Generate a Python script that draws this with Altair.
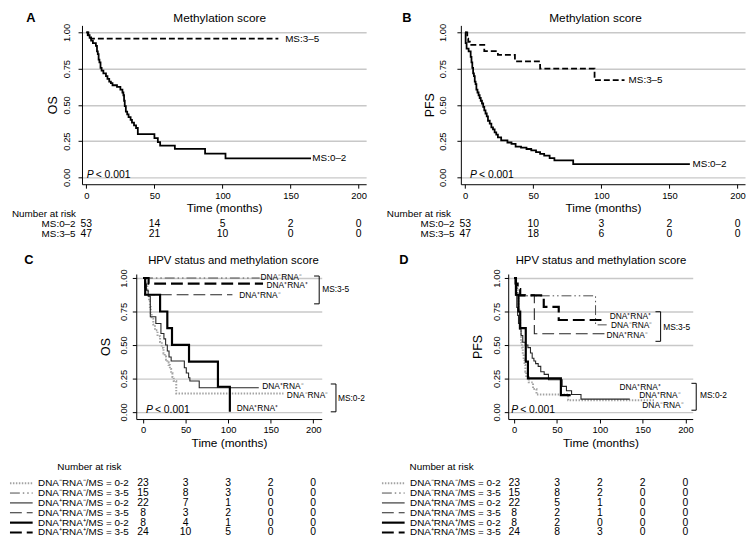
import altair as alt
import pandas as pd

FONT = "Liberation Sans"
TICKS = [0, 50, 100, 150, 200]
YTICKS = [0, 0.25, 0.5, 0.75, 1.0]

# ---------------- Panel A: OS by methylation score ----------------
A_GROUPS = ["MS:0–2", "MS:3–5"]
A_T = [
    [0, 1, 2.4, 3.5, 4.8, 7, 7.8, 8.4, 9, 9.6, 10.4, 11.2, 12.5, 14.4, 15.5, 16.8, 18, 19.2, 22.5, 25,
     26.5, 27.2, 27.7, 28.2, 29, 30, 31, 32.5, 33.5, 35, 36.5, 37.8, 50, 52.5, 54.2, 65, 87.2, 102.2, 165],
    [0, 1.5, 3.5, 141],
]
A_S = [
    [1, .981, .962, .943, .925, .906, .868, .849, .811, .792, .755, .736, .717, .698, .679, .66, .649, .635, .623, .604,
     .585, .566, .528, .491, .453, .434, .415, .396, .377, .358, .34, .297, .27, .243, .218, .196, .163, .131, .131],
    [1, .979, .957, .957],
]
A_RISK = [[53, 14, 5, 2, 0], [47, 21, 10, 0, 0]]
A_LABELS = ["MS:3–5", "MS:0–2"]
A_LABEL_T = [146, 166]
A_LABEL_S = [0.957, 0.131]

# ---------------- Panel B: PFS by methylation score ----------------
B_T = [
    [0, 0.3, 1, 2.5, 4, 4.6, 5.2, 5.8, 6.4, 7, 7.6, 8.2, 9, 9.8, 10.6, 11.4, 12.3, 13.2, 14, 14.9,
     15.8, 16.7, 18, 19.2, 20.4, 21.6, 22.8, 24, 26.4, 31, 34, 37, 41, 45, 48.5, 52, 55, 58, 62, 65.5, 79.3, 165],
    [0, 1.5, 2.2, 3.4, 14, 24, 36.5, 55, 95, 117],
]
B_S = [
    [1, .925, .887, .868, .83, .792, .755, .717, .698, .66, .642, .604, .585, .566, .547, .528, .509, .485, .462, .44,
     .42, .39, .37, .345, .33, .31, .295, .275, .255, .24, .23, .212, .205, .195, .186, .174, .162, .15, .132, .116, .09, .09],
    [1, .957, .935, .913, .87, .845, .80, .75, .67, .67],
]
B_RISK = [[53, 10, 3, 2, 0], [47, 18, 6, 0, 0]]
B_LABELS = ["MS:3–5", "MS:0–2"]
B_LABEL_T = [120, 167]
B_LABEL_S = [0.67, 0.09]

# ---------------- Panels C/D: HPV status and methylation score ----------------
HPV_GROUPS = [
    "DNA⁻RNA⁻/MS = 0-2", "DNA⁻RNA⁻/MS = 3-5",
    "DNA⁺RNA⁻/MS = 0-2", "DNA⁺RNA⁻/MS = 3-5",
    "DNA⁺RNA⁺/MS = 0-2", "DNA⁺RNA⁺/MS = 3-5",
]
C_T = [
    [0, 3, 5, 6, 7, 8, 9, 10, 12, 14, 17, 20, 22, 24, 25.5, 27, 28.5, 30, 31.5, 33, 34.5, 36, 39, 165],
    [0, 137],
    [0, 2, 4, 6, 8.5, 15, 21, 24.5, 26.5, 28.5, 30.5, 33, 48.5, 50.8, 53.5, 55, 66, 136],
    [0, 2, 105],
    [0, 2.5, 20, 28.5, 34, 54, 88, 102],
    [0, 6.5, 141],
]
C_S = [
    [1, .957, .913, .87, .826, .783, .739, .696, .652, .609, .565, .522, .478, .435, .413, .39, .37, .35, .32, .29, .26, .23, .137, .137],
    [1, 1],
    [1, .955, .909, .864, .71, .66, .585, .545, .5, .455, .41, .38, .33, .29, .255, .23, .18, .18],
    [1, .875, .875],
    [1, .875, .75, .625, .5, .375, .1875, 0],
    [1, .958, .958],
]
C_RISK = [[23, 3, 3, 2, 0], [15, 8, 3, 0, 0], [22, 7, 1, 0, 0], [8, 3, 2, 0, 0], [8, 4, 1, 0, 0], [24, 10, 5, 0, 0]]
C_LABELS = ["DNA⁻RNA⁻", "DNA⁺RNA⁺", "DNA⁺RNA⁻", "DNA⁺RNA⁻", "DNA⁻RNA⁻", "DNA⁺RNA⁺", "MS:3-5", "MS:0-2"]
C_LABEL_T = [138, 145, 113, 140, 169, 110, 210.5, 229]
C_LABEL_S = [1.01, 0.945, 0.872, 0.19, 0.125, 0.03, 0.92, 0.103]
C_BRACKETS = [(207, 201, 1.015, 0.807), (226.7, 220.6, 0.208, 0.0)]

D_T = [
    [0, 2, 3, 4, 5, 6, 7, 8, 9, 10, 11, 12, 13, 14, 17, 22, 26, 63, 165],
    [0, 2, 4, 95, 108],
    [0, 1, 2, 3, 4, 5, 6, 8, 10, 13, 16, 19, 21, 23, 25, 28, 31, 35, 40, 56, 61, 67, 78, 135],
    [0, 2, 23.5, 106],
    [0, 2, 5, 7, 13.5, 16, 54.5, 66],
    [0, 2, 4, 7, 34.5, 52, 106],
]
D_S = [
    [1, .957, .913, .87, .78, .70, .61, .52, .48, .43, .39, .35, .30, .26, .22, .17, .13, .087, .087],
    [1, .933, .867, .65, .65],
    [1, .955, .87, .78, .72, .66, .62, .57, .52, .50, .48, .44, .40, .38, .36, .34, .30, .28, .24, .19, .157, .13, .095, .095],
    [1, .875, .583, .583],
    [1, .875, .75, .625, .375, .25, .125, .125],
    [1, .958, .917, .87, .784, .686, .686],
]
D_RISK = [[23, 3, 2, 2, 0], [15, 8, 2, 0, 0], [22, 5, 1, 0, 0], [8, 2, 1, 0, 0], [8, 2, 0, 0, 0], [24, 8, 3, 0, 0]]
D_LABELS = ["DNA⁺RNA⁺", "DNA⁻RNA⁻", "DNA⁺RNA⁻", "DNA⁺RNA⁺", "DNA⁺RNA⁻", "DNA⁻RNA⁻", "MS:3-5", "MS:0-2"]
D_LABEL_T = [111.5, 113, 107.7, 123, 146, 149.6, 174, 217]
D_LABEL_S = [0.716, 0.646, 0.576, 0.184, 0.123, 0.049, 0.637, 0.127]
D_BRACKETS = [(171, 165, 0.748, 0.527), (212.6, 207, 0.213, 0.012)]

# ---------------- styles ----------------
AB_STYLE = [
    dict(color="black", strokeWidth=1.8),
    dict(color="black", strokeWidth=1.8, strokeDash=[6, 3]),
]
HPV_STYLE = [
    dict(color="#a3a3a3", strokeWidth=2, strokeDash=[1.5, 1.5]),
    dict(color="#4a4a4a", strokeWidth=1, strokeDash=[10, 3, 1.5, 3, 1.5, 3]),
    dict(color="#262626", strokeWidth=1.1),
    dict(color="#262626", strokeWidth=1.1, strokeDash=[12, 5]),
    dict(color="black", strokeWidth=2.2),
    dict(color="black", strokeWidth=2.2, strokeDash=[12, 5]),
]


def km_chart(T, S, styles, labels, lt, ls, label_size, brackets, p_t, xdom, ydom, w, h,
             ytitle, title, title_size, title_dx, title_y, letter, letter_dx, ylab_pad, ytitle_pad):
    xs = alt.Scale(domain=xdom, nice=False, zero=False)
    ys = alt.Scale(domain=ydom, nice=False, zero=False)
    x_main = alt.X("t:Q", scale=xs, axis=alt.Axis(
        values=TICKS, format="d", title="Time (months)", grid=False, labelPadding=2,
        titlePadding=3, tickSize=4, labelFlush=False, labelFontSize=9.5, titleFontSize=12))
    y_main = alt.Y("s:Q", scale=ys, axis=alt.Axis(
        values=YTICKS, format=".2f", title=ytitle, grid=True, gridColor="#c8c8c8", gridWidth=1.4,
        labelAngle=270, labelAlign="center", labelBaseline="bottom", labelPadding=ylab_pad,
        titlePadding=ytitle_pad, tickSize=4, labelFontSize=9.5, titleFontSize=12.5))
    # top axis carries the panel title, right axis carries the panel letter
    x_top = alt.X("t:Q", scale=xs, axis=alt.Axis(
        orient="top", title=title, labels=False, ticks=False, domain=False, grid=False,
        minExtent=0, titleX=w / 2 + title_dx, titleY=title_y, titleAlign="center",
        titleBaseline="alphabetic", titleAngle=0, titleFontSize=title_size,
        titleFontWeight="normal"))
    y_right = alt.Y("s:Q", scale=ys, axis=alt.Axis(
        orient="right", title=letter, labels=False, ticks=False, domain=False, grid=False,
        minExtent=0, titleX=-(w + letter_dx), titleY=title_y, titleAlign="left",
        titleBaseline="alphabetic", titleAngle=0, titleFontSize=13, titleFontWeight="bold"))
    X = alt.X("t:Q", scale=xs, axis=None)
    Y = alt.Y("s:Q", scale=ys, axis=None)

    layers = []
    for i, (t, s, st) in enumerate(zip(T, S, styles)):
        df = pd.DataFrame({"t": t, "s": s})
        layers.append(alt.Chart(df).mark_line(interpolate="step-after", **st).encode(
            x=x_main if i == 0 else X, y=y_main if i == 0 else Y))
    lab = pd.DataFrame({"label": labels, "t": lt, "s": ls})
    layers.append(alt.Chart(lab).mark_text(align="left", baseline="middle", font=FONT,
                                           fontSize=label_size, color="black")
                  .encode(x=X, y=Y, text="label:N"))
    if brackets:
        segs = []
        for (bx, bx0, y1, y2) in brackets:
            segs.append(dict(t=bx, t2=bx, s=y1, s2=y2))
            segs.append(dict(t=bx0, t2=bx, s=y1, s2=y1))
            segs.append(dict(t=bx0, t2=bx, s=y2, s2=y2))
        layers.append(alt.Chart(pd.DataFrame(segs)).mark_rule(color="black", strokeWidth=1)
                      .encode(x=X, x2="t2:Q", y=Y, y2="s2:Q"))
    pdf = pd.DataFrame({"t": [p_t], "s": [0.012]})
    layers.append(alt.Chart(pdf).mark_text(align="left", baseline="middle", font=FONT, fontSize=10.5,
                                           fontStyle="italic", color="black", text="P")
                  .encode(x=x_top, y=y_right))
    layers.append(alt.Chart(pdf).mark_text(align="left", baseline="middle", font=FONT, fontSize=10.5,
                                           color="black", text="< 0.001", dx=9)
                  .encode(x=X, y=Y))
    return alt.layer(*layers).resolve_axis(x="independent", y="independent").properties(
        width=w, height=h)


def risk_table(rows, counts, xdom, w, title_dx, title_offset, label_align, label_pad, styles=None):
    recs = [dict(row=r, t=t, n=str(n)) for r, c in zip(rows, counts) for t, n in zip(TICKS, c)]
    Y = alt.Y("row:N", sort=rows, scale=alt.Scale(domain=rows),
              axis=alt.Axis(title=None, domain=False, ticks=False, tickSize=0, grid=False,
                            labelAlign=label_align, labelPadding=label_pad, labelFontSize=10,
                            labelBaseline="middle", labelOverlap=False, labelFont=FONT,
                            labelColor="black"))
    X = alt.X("t:Q", scale=alt.Scale(domain=xdom, nice=False, zero=False), axis=None)
    layers = [alt.Chart(pd.DataFrame(recs)).mark_text(font=FONT, fontSize=10.5, color="black")
              .encode(x=X, y=Y, text="n:N")]
    if styles:
        for r, st in zip(rows, styles):
            layers.append(alt.Chart(pd.DataFrame({"row": [r]})).mark_rule(**st)
                          .encode(y=Y, x=alt.value(-128), x2=alt.value(-105)))
    return alt.layer(*layers).properties(
        width=w, height=10 * len(rows),
        title=alt.TitleParams("Number at risk", anchor="start", frame="group", dx=title_dx,
                              offset=title_offset, fontSize=10, font=FONT, fontWeight="normal",
                              color="black"))


AB_X = [-3.2, 205.5]
AB_Y = [-0.048, 1.048]
C_X = [-8, 210]
D_X = [-7, 208.5]
CD_Y = [-0.054, 1.03]

kmA = km_chart(A_T, A_S, AB_STYLE, A_LABELS, A_LABEL_T, A_LABEL_S, 10, None, 0.3,
               AB_X, AB_Y, 288, 161, "OS", "Methylation score", 12, -5, -4, "A", 57, 7, 2)
kmB = km_chart(B_T, B_S, AB_STYLE, B_LABELS, B_LABEL_T, B_LABEL_S, 10, None, 3.6,
               AB_X, AB_Y, 288, 161, "PFS", "Methylation score", 12, -8, -4, "B", 60, 10, 1)
kmC = km_chart(C_T, C_S, HPV_STYLE, C_LABELS, C_LABEL_T, C_LABEL_S, 8.5, C_BRACKETS, 3.5,
               C_X, CD_Y, 188, 147, "OS", "HPV status and methylation score", 11.5, 4, -11, "C", 114, 4, 6)
kmD = km_chart(D_T, D_S, HPV_STYLE, D_LABELS, D_LABEL_T, D_LABEL_S, 8.5, D_BRACKETS, -3.4,
               D_X, CD_Y, 187, 147, "PFS", "HPV status and methylation score", 11.5, 0, -11, "D", 111, 3, 7)

tabA = risk_table(A_GROUPS, A_RISK, AB_X, 288, -71, 0, "right", 7)
tabB = risk_table(A_GROUPS, B_RISK, AB_X, 288, -75, 0, "right", 7)
tabC = risk_table(HPV_GROUPS, C_RISK, C_X, 188, -80, 6, "left", 100, HPV_STYLE)
tabD = risk_table(HPV_GROUPS, D_RISK, D_X, 187, -100, 6, "left", 100, HPV_STYLE)

panelA = alt.vconcat(kmA, tabA, spacing=-5)
panelB = alt.vconcat(kmB, tabB, spacing=-5)
panelC = alt.vconcat(kmC, tabC, spacing=13)
panelD = alt.vconcat(kmD, tabD, spacing=13)

spacer = alt.Chart(pd.DataFrame({"v": [0]})).mark_point(opacity=0, size=1).encode(
    x=alt.value(0), y=alt.value(0)).properties(width=1, height=1)

row1 = alt.hconcat(panelA, panelB, spacing=20)
row2 = alt.hconcat(alt.hconcat(spacer, panelC, spacing=-76), panelD, spacing=15)

chart = alt.vconcat(row1, row2, spacing=14).properties(
    padding=0, background="white"
).configure_view(stroke=None).configure_axis(
    labelFont=FONT, titleFont=FONT, labelColor="black", titleColor="black",
    domainColor="black", tickColor="black", titleFontWeight="normal", domainWidth=1, tickWidth=1
).configure_title(font=FONT, color="black")

chart.save("out.html", embed_options={"renderer": "svg", "actions": False})
